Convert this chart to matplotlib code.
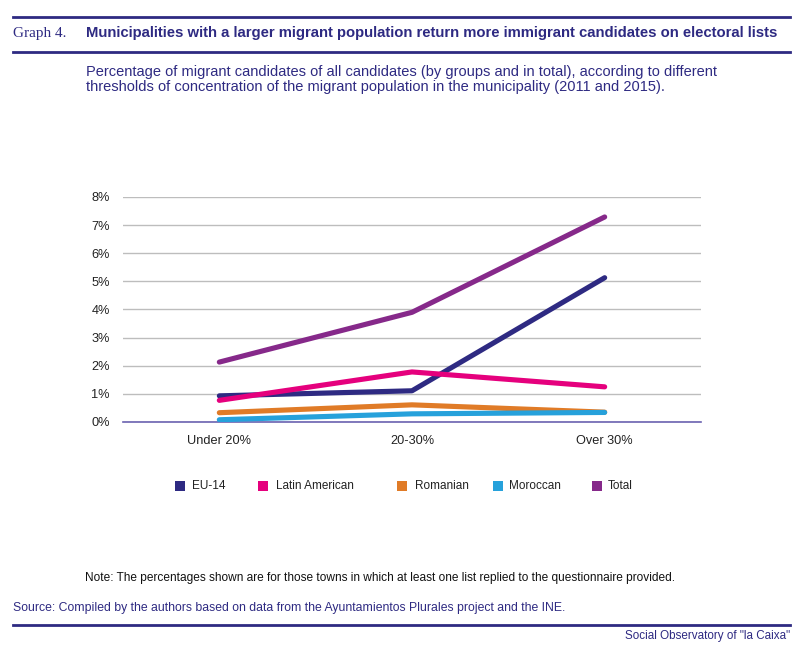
import matplotlib
matplotlib.use("Agg")
import matplotlib.pyplot as plt
from matplotlib.lines import Line2D
from matplotlib.patches import Rectangle

categories = ["Under 20%", "20-30%", "Over 30%"]
series_names = ["EU-14", "Latin American", "Romanian", "Moroccan", "Total"]
eu14 = [0.93, 1.11, 5.13]
latin_american = [0.77, 1.78, 1.25]
romanian = [0.33, 0.61, 0.35]
moroccan = [0.08, 0.29, 0.34]
total = [2.13, 3.90, 7.29]
y_ticks = [0, 1, 2, 3, 4, 5, 6, 7, 8]
y_tick_labels = ["0%", "1%", "2%", "3%", "4%", "5%", "6%", "7%", "8%"]

values = [eu14, latin_american, romanian, moroccan, total]
colors = ["#2E2A82", "#E5007D", "#E07B27", "#26A1DB", "#86298A"]
navy = "#2E2A82"

plt.rcParams['font.family'] = ['Liberation Sans', 'DejaVu Sans']

fig = plt.figure(figsize=(8, 6.5), dpi=100)
W, H = 800, 650

def fx(px):
    return px / W

def fy(py):
    return 1 - py / H

ax = fig.add_axes([fx(123), fy(422), fx(701) - fx(123), fy(197) - fy(422)])
x = list(range(len(categories)))
for name, vals, c in zip(series_names, values, colors):
    ax.plot(x, vals, color=c, lw=3.7, solid_capstyle='round', solid_joinstyle='round', label=name, zorder=3)

ax.set_xlim(-0.5, 2.5)
ax.set_ylim(0, 8)
ax.set_yticks(y_ticks)
ax.set_yticklabels(y_tick_labels)
ax.set_xticks(x)
ax.set_xticklabels(categories)
ax.yaxis.grid(True, color="#BDBDBD", lw=1)
ax.set_axisbelow(True)
for s in ["top", "right", "left"]:
    ax.spines[s].set_visible(False)
ax.spines["bottom"].set_color("#6B62B0")
ax.spines["bottom"].set_linewidth(1.2)
ax.spines["bottom"].set_zorder(2)
ax.tick_params(axis='both', length=0, labelsize=9.2, colors="#222222")
ax.tick_params(axis='y', pad=9.5)
ax.tick_params(axis='x', pad=9)

# Legend (manual placement)
leg_sq = [180, 263, 402, 498, 597]
leg_tx = [192, 276, 415, 509, 608]
leg_y = 486
for name, c, sx, tx in zip(series_names, colors, leg_sq, leg_tx):
    fig.patches.append(Rectangle((fx(sx - 5), fy(leg_y + 5)), fx(10), 10 / H,
                                 transform=fig.transFigure, facecolor=c, edgecolor='none'))
    fig.text(fx(tx), fy(leg_y), name, fontsize=8.5, va='center', ha='left', color="#222222")

# Header
fig.add_artist(Line2D([fx(13), fx(790)], [fy(16.5), fy(16.5)], color=navy, lw=2))
fig.add_artist(Line2D([fx(13), fx(790)], [fy(51.5), fy(51.5)], color=navy, lw=2))
fig.text(fx(13), fy(33.5), "Graph 4.", fontsize=11, family=['Liberation Serif', 'DejaVu Serif'],
         color=navy, va='center', ha='left')
fig.text(fx(86), fy(33), "Municipalities with a larger migrant population return more immigrant candidates on electoral lists",
         fontsize=10.7, fontweight='bold', color=navy, va='center', ha='left')
fig.text(fx(86), fy(79.5), "Percentage of migrant candidates of all candidates (by groups and in total), according to different\n"
         "thresholds of concentration of the migrant population in the municipality (2011 and 2015).",
         fontsize=10.5, color=navy, va='center', ha='left', linespacing=1.15)

# Footer
fig.text(fx(85), fy(578), "Note: The percentages shown are for those towns in which at least one list replied to the questionnaire provided.",
         fontsize=8.6, color="#111111", va='center', ha='left')
fig.text(fx(13), fy(608), "Source: Compiled by the authors based on data from the Ayuntamientos Plurales project and the INE.",
         fontsize=8.85, color=navy, va='center', ha='left')
fig.add_artist(Line2D([fx(13), fx(790)], [fy(624.5), fy(624.5)], color=navy, lw=2))
fig.text(fx(790), fy(636), "Social Observatory of \"la Caixa\"", fontsize=8.4, color=navy, va='center', ha='right')

fig.savefig("out.png", dpi=100, facecolor="white")
